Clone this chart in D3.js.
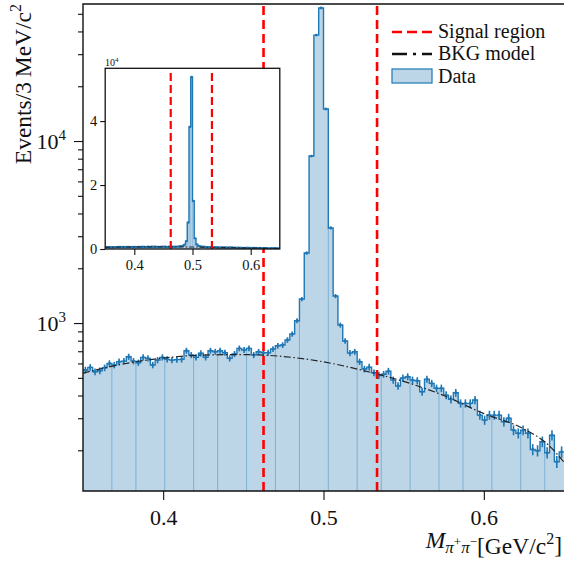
<!DOCTYPE html>
<html>
<head>
<meta charset="utf-8">
<script src="https://cdn.jsdelivr.net/npm/d3@7"></script>
<style>
  body { margin: 0; background: #fff; }
  text { font-family: "Liberation Serif", "DejaVu Serif", serif; fill: #111; }
</style>
</head>
<body>
<div id="chart"></div>
<script>
// histogram definition: 100 bins of 3 MeV from 0.35 GeV
const binLow = 0.35;
const binWidth = 0.003;
const counts = [
  552, 571, 540, 547, 568, 600, 588, 613, 618, 653,
  618, 605, 648, 640, 588, 626, 648, 632, 626, 630,
  632, 705, 667, 648, 682, 648, 705, 695, 705, 687,
  640, 676, 726, 711, 726, 667, 695, 687, 687, 720,
  750, 757, 807, 870, 1030, 1355, 2424, 8270, 38200, 53800,
  15000, 3330, 1407, 975, 797, 684, 695, 613, 559, 573,
  533, 515, 523, 544, 486, 451, 499, 507, 486, 482,
  419, 492, 466, 438, 438, 402, 381, 414, 362, 362,
  362, 378, 312, 293, 312, 312, 312, 287, 300, 258,
  248, 258, 248, 202, 199, 223, 194, 242, 173, 196
];

// background model curve
const bkgX = [0.35, 0.375, 0.40, 0.425, 0.45, 0.475, 0.50, 0.525, 0.55, 0.575, 0.60, 0.625, 0.64, 0.65];
const bkgY = [531, 596, 642, 667, 671, 655, 612, 548, 478, 400, 318, 262, 215, 172];

const signalRegion = [0.4626, 0.5334];
const xTicks = [0.4, 0.5, 0.6];
const yMajorTicks = [1000, 10000];
const insetYTicks = [0, 20000, 40000];

const blue = "#1f77b4";
const fillBlue = "#bcd6e8";
const red = "#ff0000";

const W = 564, H = 563;
const svg = d3.select("#chart").append("svg")
  .attr("width", W).attr("height", H);

const bins = counts.map((c, i) => ({
  x0: binLow + i * binWidth,
  x1: binLow + (i + 1) * binWidth,
  c: c
}));
const stepPts = [];
bins.forEach(d => { stepPts.push([d.x0, d.c]); stepPts.push([d.x1, d.c]); });

// ---------- main axes ----------
const x = d3.scaleLinear().domain([0.35, 0.65]).range([83, 564]);
const y = d3.scaleLog().domain([119.5, 56600]).range([491, 4]);

svg.append("clipPath").attr("id", "mainclip")
  .append("rect").attr("x", 83).attr("y", 4).attr("width", 483).attr("height", 487);

const main = svg.append("g").attr("clip-path", "url(#mainclip)");

const area = d3.area().x(d => x(d[0])).y0(491).y1(d => y(d[1]));
main.append("path").attr("d", area(stepPts)).attr("fill", fillBlue);

// bar edges only show where they land on a pixel boundary (moire of the renderer)
const edgeIdx = d3.range(17).map(n => Math.round(6 + n * 17 / 3 - 0.3)).filter(i => i > 0 && i < counts.length);
main.selectAll("line.edge")
  .data(edgeIdx)
  .enter()
  .append("line")
  .attr("x1", i => x(bins[i].x0)).attr("x2", i => x(bins[i].x0))
  .attr("y1", 491)
  .attr("y2", i => y(Math.min(counts[i - 1], counts[i])))
  .attr("stroke", blue).attr("stroke-opacity", 0.4).attr("stroke-width", 1);

const stepLine = d3.line().x(d => x(d[0])).y(d => y(d[1]));
main.append("path")
  .attr("d", stepLine(stepPts))
  .attr("fill", "none").attr("stroke", blue).attr("stroke-width", 1.4);

main.selectAll("line.err")
  .data(bins)
  .enter()
  .append("line")
  .attr("x1", d => x((d.x0 + d.x1) / 2)).attr("x2", d => x((d.x0 + d.x1) / 2))
  .attr("y1", d => y(d.c - Math.sqrt(d.c)))
  .attr("y2", d => y(d.c + Math.sqrt(d.c)))
  .attr("stroke", blue).attr("stroke-width", 1.6);

main.selectAll("circle.pt")
  .data(bins)
  .enter()
  .append("circle")
  .attr("cx", d => x((d.x0 + d.x1) / 2))
  .attr("cy", d => y(d.c))
  .attr("r", 1.4).attr("fill", blue);

const bkgLine = d3.line().x((d, i) => x(bkgX[i])).y(d => y(d)).curve(d3.curveMonotoneX);
main.append("path")
  .attr("d", bkgLine(bkgY))
  .attr("fill", "none").attr("stroke", "#222").attr("stroke-width", 1.2)
  .attr("stroke-dasharray", "7,2.5,1.5,2.5");

main.selectAll("line.sig")
  .data(signalRegion)
  .enter()
  .append("line")
  .attr("x1", d => x(d)).attr("x2", d => x(d))
  .attr("y1", 491).attr("y2", 4)
  .attr("stroke", red).attr("stroke-width", 2.6).attr("stroke-dasharray", "9,5");

// axes
const minorTicks = y.ticks().filter(t => !yMajorTicks.includes(t));
svg.append("g")
  .attr("transform", "translate(83,0)")
  .call(d3.axisLeft(y).tickValues(minorTicks).tickSize(5).tickFormat(""))
  .call(g => g.select(".domain").remove());

const yAx = svg.append("g")
  .attr("transform", "translate(83,0)")
  .call(d3.axisLeft(y).tickValues(yMajorTicks).tickSize(9).tickPadding(8).tickFormat(""))
  .call(g => g.select(".domain").remove());
yAx.selectAll(".tick text").each(function(d) {
  const t = d3.select(this).attr("font-size", 22).attr("dy", "0.36em");
  t.append("tspan").text("10");
  t.append("tspan").attr("font-size", 15).attr("dy", "-0.62em").text(Math.round(Math.log10(d)));
});

const xAx = svg.append("g")
  .attr("transform", "translate(0,491)")
  .call(d3.axisBottom(x).tickValues(xTicks).tickSize(9).tickPadding(9).tickFormat(d3.format(".1f")))
  .call(g => g.select(".domain").remove());
xAx.selectAll(".tick text").attr("font-size", 22);
svg.selectAll(".tick line").attr("stroke", "#111").attr("stroke-width", 1.2);

svg.append("path")
  .attr("d", "M567,4H83V491H567")
  .attr("fill", "none").attr("stroke", "#111").attr("stroke-width", 1.4);

// axis labels
const yl = svg.append("text")
  .attr("transform", "translate(31,4) rotate(-90)")
  .attr("text-anchor", "end")
  .attr("font-size", 23.5);
yl.append("tspan").text("Events/3\u2009MeV/c");
yl.append("tspan").attr("font-size", 16).attr("dy", "-0.6em").text("2");

const xl = svg.append("text")
  .attr("x", 562).attr("y", 548)
  .attr("text-anchor", "end")
  .attr("font-size", 23.5);
xl.append("tspan").attr("font-style", "italic").text("M");
xl.append("tspan").attr("font-size", 17).attr("dy", "0.3em").attr("font-style", "italic").text("\u03c0");
xl.append("tspan").attr("font-size", 13).attr("dy", "-0.55em").text("+");
xl.append("tspan").attr("font-size", 17).attr("dy", "0.42em").attr("font-style", "italic").text("\u03c0");
xl.append("tspan").attr("font-size", 13).attr("dy", "-0.55em").text("\u2212");
xl.append("tspan").attr("dy", "0.33em").text("[GeV/c");
xl.append("tspan").attr("font-size", 16).attr("dy", "-0.6em").text("2");
xl.append("tspan").attr("dy", "0.4em").text("]");

// legend
const leg = svg.append("g");
leg.append("line").attr("x1", 392).attr("x2", 432).attr("y1", 32).attr("y2", 32)
  .attr("stroke", red).attr("stroke-width", 2.6).attr("stroke-dasharray", "10,5");
leg.append("line").attr("x1", 392).attr("x2", 432).attr("y1", 54).attr("y2", 54)
  .attr("stroke", "#111").attr("stroke-width", 2.4).attr("stroke-dasharray", "15,6,3,6");
leg.append("rect").attr("x", 392).attr("y", 69).attr("width", 40).attr("height", 14)
  .attr("fill", fillBlue).attr("stroke", blue).attr("stroke-width", 1.2);
[["Signal region", 38], ["BKG model", 60], ["Data", 82.5]].forEach(([t, yy]) => {
  leg.append("text").attr("x", 438).attr("y", yy).attr("font-size", 20).text(t);
});

// ---------- inset ----------
const xi = d3.scaleLinear().domain([0.35, 0.65]).range([105.2, 279.8]);
const yi = d3.scaleLinear().domain([0, 56500]).range([249, 68.3]);

svg.append("rect").attr("x", 105.2).attr("y", 68.3).attr("width", 174.6).attr("height", 180.7)
  .attr("fill", "#fff");
svg.append("clipPath").attr("id", "insetclip")
  .append("rect").attr("x", 105.2).attr("y", 68.3).attr("width", 174.6).attr("height", 180.7);
const ins = svg.append("g").attr("clip-path", "url(#insetclip)");

const areaI = d3.area().x(d => xi(d[0])).y0(249).y1(d => yi(d[1]));
ins.append("path").attr("d", areaI(stepPts)).attr("fill", fillBlue);

ins.selectAll("line.iedge")
  .data(bins.filter(d => d.c > 2000))
  .enter()
  .append("line")
  .attr("x1", d => xi(d.x0)).attr("x2", d => xi(d.x0))
  .attr("y1", 249).attr("y2", d => yi(d.c))
  .attr("stroke", blue).attr("stroke-opacity", 0.4).attr("stroke-width", 0.6);

const stepLineI = d3.line().x(d => xi(d[0])).y(d => yi(d[1]));
ins.append("path")
  .attr("d", stepLineI(stepPts))
  .attr("fill", "none").attr("stroke", blue).attr("stroke-width", 1.4);

ins.selectAll("circle.ipt")
  .data(bins)
  .enter()
  .append("circle")
  .attr("cx", d => xi((d.x0 + d.x1) / 2))
  .attr("cy", d => yi(d.c))
  .attr("r", 1.2).attr("fill", blue);

const bkgLineI = d3.line().x((d, i) => xi(bkgX[i])).y(d => yi(d)).curve(d3.curveMonotoneX);
ins.append("path")
  .attr("d", bkgLineI(bkgY))
  .attr("fill", "none").attr("stroke", "#222").attr("stroke-width", 1)
  .attr("stroke-dasharray", "5,2,1.5,2");

ins.selectAll("line.isig")
  .data(signalRegion)
  .enter()
  .append("line")
  .attr("x1", d => xi(d)).attr("x2", d => xi(d))
  .attr("y1", 249).attr("y2", 68.3)
  .attr("stroke", red).attr("stroke-width", 2.2).attr("stroke-dasharray", "8,4");

const xiAx = svg.append("g")
  .attr("transform", "translate(0,249)")
  .call(d3.axisBottom(xi).tickValues(xTicks).tickSize(6).tickPadding(5).tickFormat(d3.format(".1f")))
  .call(g => g.select(".domain").remove());
xiAx.selectAll(".tick text").attr("font-size", 14.5).attr("fill", "#333");

const yiAx = svg.append("g")
  .attr("transform", "translate(105.2,0)")
  .call(d3.axisLeft(yi).tickValues(insetYTicks).tickSize(5).tickPadding(3).tickFormat(d => d / 10000))
  .call(g => g.select(".domain").remove());
yiAx.selectAll(".tick text").attr("font-size", 14.5).attr("fill", "#333");
svg.selectAll(".tick line").attr("stroke", "#111").attr("stroke-width", 1.1);

svg.append("rect").attr("x", 105.2).attr("y", 68.3).attr("width", 174.6).attr("height", 180.7)
  .attr("fill", "none").attr("stroke", "#111").attr("stroke-width", 1.3);

const off = svg.append("text").attr("x", 105).attr("y", 66).attr("font-size", 10).attr("fill", "#333");
off.append("tspan").text("10");
off.append("tspan").attr("font-size", 7).attr("dy", "-0.6em").text("4");
</script>
</body>
</html>
